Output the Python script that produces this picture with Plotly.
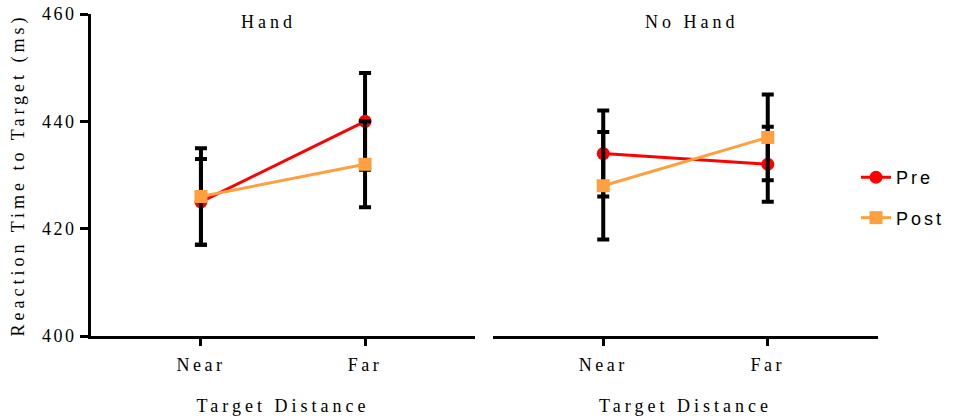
import plotly.graph_objects as go

# ---- data ----
categories = ["Near", "Far"]
panels = ["Hand", "No Hand"]
series_names = ["Pre", "Post"]

hand_pre = [425, 440]
hand_pre_err = [8, 9]
hand_post = [426, 432]
hand_post_err = [9, 8]

nohand_pre = [434, 432]
nohand_pre_err = [8, 7]
nohand_post = [428, 437]
nohand_post_err = [10, 8]

y_ticks = [400, 420, 440, 460]

# ---- styles ----
RED = "#FF0000"
ORANGE = "#FFA040"
SERIF = "Liberation Serif"
SANS = "Liberation Sans"
FS = 18

fig = go.Figure()

data = [
    ("x", "y", hand_pre, hand_pre_err, hand_post, hand_post_err, True),
    ("x2", "y2", nohand_pre, nohand_pre_err, nohand_post, nohand_post_err, False),
]
for xa, ya, pre, pre_err, post, post_err, show in data:
    fig.add_trace(go.Scatter(
        x=categories, y=pre, xaxis=xa, yaxis=ya, name=series_names[0],
        legendgroup="pre", showlegend=show, mode="lines+markers",
        line=dict(color=RED, width=3),
        marker=dict(symbol="circle", size=13, color=RED),
        error_y=dict(type="data", array=pre_err, color="black", thickness=4, width=6),
    ))
    fig.add_trace(go.Scatter(
        x=categories, y=post, xaxis=xa, yaxis=ya, name=series_names[1],
        legendgroup="post", showlegend=show, mode="lines+markers",
        line=dict(color=ORANGE, width=3),
        marker=dict(symbol="square", size=13, color=ORANGE),
        error_y=dict(type="data", array=post_err, color="black", thickness=4, width=6),
    ))

xcommon = dict(
    type="category", range=[-0.67, 1.67], showline=True, linewidth=3, linecolor="black",
    ticks="outside", ticklen=7, tickwidth=3, tickcolor="black", ticklabelstandoff=3,
    showgrid=False, zeroline=False,
    tickfont=dict(family=SERIF, size=FS, color="black"),
    title=dict(text="Target Distance", font=dict(family=SERIF, size=FS, color="black"), standoff=26),
)
fig.update_layout(
    xaxis=dict(domain=[91 / 960, 475 / 960], anchor="y", **xcommon),
    xaxis2=dict(domain=[493 / 960, 878 / 960], anchor="y2", **xcommon),
    yaxis=dict(
        domain=[0, 1], range=[400, 460], tickvals=y_ticks, anchor="x",
        showline=True, linewidth=3, linecolor="black",
        ticks="outside", ticklen=8, tickwidth=3, tickcolor="black",
        showgrid=False, zeroline=False,
        tickfont=dict(family=SERIF, size=FS, color="black"),
        title=dict(text="Reaction Time to Target (ms)",
                   font=dict(family=SERIF, size=FS, color="black"), standoff=21),
    ),
    yaxis2=dict(
        domain=[0, 1], range=[400, 460], anchor="x2", matches="y",
        showline=False, showticklabels=False, ticks="", showgrid=False, zeroline=False,
    ),
    annotations=[
        dict(text=panels[0], xref="x", yref="paper", x=0.41, y=1 - 8 / 322,
             showarrow=False, yanchor="middle", xanchor="center",
             font=dict(family=SERIF, size=FS, color="black")),
        dict(text=panels[1], xref="x2", yref="paper", x=0.54, y=1 - 8 / 322,
             showarrow=False, yanchor="middle", xanchor="center",
             font=dict(family=SERIF, size=FS, color="black")),
    ],
    legend=dict(
        x=856 / 960, y=0.43, xanchor="left", yanchor="middle",
        font=dict(family=SANS, size=18, color="black"),
        tracegroupgap=14, traceorder="grouped", bgcolor="rgba(0,0,0,0)",
    ),
    width=960, height=416,
    margin=dict(l=0, r=0, t=14, b=80),
    plot_bgcolor="white", paper_bgcolor="white",
)

css = """
document.body.style.margin = '0';
var s = document.createElement('style');
s.textContent = '.xtitle, .x2title, .ytitle, .annotation-text {letter-spacing: 4px;} '
  + '.xtick text, .x2tick text {letter-spacing: 3.5px;} .ytick text {letter-spacing: 2.5px;} '
  + '.legendtext {letter-spacing: 3px;} .legend .scrollbox {clip-path: none !important;}';
document.head.appendChild(s);
"""
fig.write_html("out.html", post_script=css, config={"displayModeBar": False})
